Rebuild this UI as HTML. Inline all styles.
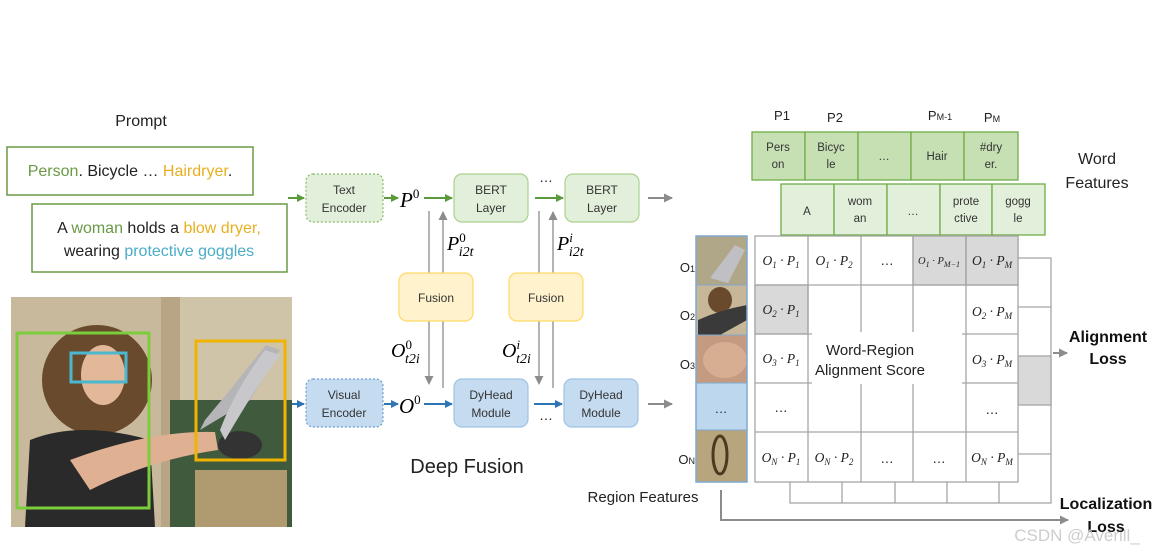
<!DOCTYPE html>
<html><head><meta charset="utf-8"><style>
html,body{margin:0;padding:0;background:#fff;}
svg text{font-family:"Liberation Sans",sans-serif;}
.m{font-family:"Liberation Serif",serif;font-style:italic;}
</style></head><body>
<svg width="1159" height="555" viewBox="0 0 1159 555" xmlns="http://www.w3.org/2000/svg">
<defs>
<marker id="ag" markerWidth="8" markerHeight="8" refX="7" refY="4" orient="auto" markerUnits="userSpaceOnUse"><path d="M0,0 L8,4 L0,8 z" fill="#5b9a3c"/></marker>
<marker id="ab" markerWidth="8" markerHeight="8" refX="7" refY="4" orient="auto" markerUnits="userSpaceOnUse"><path d="M0,0 L8,4 L0,8 z" fill="#2e75b6"/></marker>
<marker id="ay" markerWidth="9" markerHeight="9" refX="8" refY="4.5" orient="auto" markerUnits="userSpaceOnUse"><path d="M0,0 L9,4.5 L0,9 z" fill="#8c8c8c"/></marker>
</defs>

<!-- Prompt -->
<text x="141" y="126" font-size="16" text-anchor="middle" fill="#222">Prompt</text>
<rect x="7" y="147" width="246" height="48" fill="#fff" stroke="#6a9a45" stroke-width="1.5"/>
<text x="130" y="176" font-size="16" text-anchor="middle" fill="#222"><tspan fill="#6a9a45">Person</tspan>. Bicycle … <tspan fill="#e8b020">Hairdryer</tspan>.</text>
<rect x="32" y="204" width="255" height="68" fill="#fff" stroke="#6a9a45" stroke-width="1.5"/>
<text x="159" y="233" font-size="16" text-anchor="middle" fill="#222">A <tspan fill="#6a9a45">woman</tspan> holds a <tspan fill="#e8b020">blow dryer,</tspan></text>
<text x="159" y="256" font-size="16" text-anchor="middle" fill="#222">wearing <tspan fill="#4bacc6">protective goggles</tspan></text>

<!-- Photo -->
<rect x="11" y="297" width="281" height="230" fill="#b8a586"/>
<rect x="11" y="297" width="150" height="230" fill="#c9b99c"/>
<rect x="180" y="297" width="112" height="230" fill="#cfc3a8"/>
<rect x="170" y="400" width="122" height="127" fill="#3f5a3c"/>
<rect x="195" y="470" width="92" height="57" fill="#b09a70"/>
<ellipse cx="97" cy="380" rx="55" ry="55" fill="#6a4a2c"/>
<ellipse cx="103" cy="375" rx="22" ry="30" fill="#e2b898"/>
<path d="M30 440 Q80 420 150 440 L155 527 L25 527 Z" fill="#2a2a2a"/>
<path d="M70 460 Q150 430 215 432 L218 450 Q150 460 90 490 Z" fill="#e0b092"/>
<path d="M200 430 L250 400 L280 350 L266 345 L230 390 L205 420 Z" fill="#b5b5b8"/>
<ellipse cx="240" cy="445" rx="22" ry="14" fill="#333"/>
<path d="M225 440 Q260 380 280 355 L265 350 Q235 390 220 430Z" fill="#c8c8cc"/>
<rect x="17" y="333" width="132" height="175" fill="none" stroke="#7ccd3c" stroke-width="3"/>
<rect x="71" y="353" width="55" height="29" fill="none" stroke="#4bb8d0" stroke-width="3"/>
<rect x="196" y="341" width="89" height="119" fill="none" stroke="#f0b400" stroke-width="3"/>

<!-- Encoders -->
<line x1="288" y1="198" x2="304" y2="198" stroke="#5b9a3c" stroke-width="2" marker-end="url(#ag)"/>
<line x1="292" y1="404" x2="304" y2="404" stroke="#2e75b6" stroke-width="2" marker-end="url(#ab)"/>
<rect x="306" y="174" width="77" height="48" rx="7" fill="#e2efda" stroke="#8ab86a" stroke-width="1.2" stroke-dasharray="2,2"/>
<text x="344" y="194" font-size="12" text-anchor="middle" fill="#333">Text</text>
<text x="344" y="212" font-size="12" text-anchor="middle" fill="#333">Encoder</text>
<rect x="306" y="379" width="77" height="48" rx="7" fill="#c5dcf0" stroke="#6a9fd0" stroke-width="1.2" stroke-dasharray="2,2"/>
<text x="344" y="399" font-size="12" text-anchor="middle" fill="#333">Visual</text>
<text x="344" y="417" font-size="12" text-anchor="middle" fill="#333">Encoder</text>
<line x1="384" y1="198" x2="398" y2="198" stroke="#5b9a3c" stroke-width="2" marker-end="url(#ag)"/>
<line x1="384" y1="404" x2="398" y2="404" stroke="#2e75b6" stroke-width="2" marker-end="url(#ab)"/>
<text x="400" y="207" font-size="21" class="m">P<tspan font-size="13" dy="-9" font-style="normal">0</tspan></text>
<text x="399" y="413" font-size="21" class="m">O<tspan font-size="13" dy="-9" font-style="normal">0</tspan></text>
<line x1="424" y1="198" x2="452" y2="198" stroke="#5b9a3c" stroke-width="2" marker-end="url(#ag)"/>
<line x1="424" y1="404" x2="452" y2="404" stroke="#2e75b6" stroke-width="2" marker-end="url(#ab)"/>

<!-- BERT -->
<rect x="454" y="174" width="74" height="48" rx="8" fill="#e2efda" stroke="#a9d18e" stroke-width="1.2"/>
<text x="491" y="194" font-size="12" text-anchor="middle" fill="#333">BERT</text>
<text x="491" y="212" font-size="12" text-anchor="middle" fill="#333">Layer</text>
<rect x="565" y="174" width="74" height="48" rx="8" fill="#e2efda" stroke="#a9d18e" stroke-width="1.2"/>
<text x="602" y="194" font-size="12" text-anchor="middle" fill="#333">BERT</text>
<text x="602" y="212" font-size="12" text-anchor="middle" fill="#333">Layer</text>
<text x="546" y="182" font-size="14" text-anchor="middle" fill="#222">…</text>
<line x1="535" y1="198" x2="563" y2="198" stroke="#5b9a3c" stroke-width="2" marker-end="url(#ag)"/>
<line x1="648" y1="198" x2="672" y2="198" stroke="#8c8c8c" stroke-width="2" marker-end="url(#ay)"/>

<!-- DyHead -->
<rect x="454" y="379" width="74" height="48" rx="8" fill="#c5dcf0" stroke="#9dc3e6" stroke-width="1.2"/>
<text x="491" y="399" font-size="12" text-anchor="middle" fill="#333">DyHead</text>
<text x="491" y="417" font-size="12" text-anchor="middle" fill="#333">Module</text>
<rect x="564" y="379" width="74" height="48" rx="8" fill="#c5dcf0" stroke="#9dc3e6" stroke-width="1.2"/>
<text x="601" y="399" font-size="12" text-anchor="middle" fill="#333">DyHead</text>
<text x="601" y="417" font-size="12" text-anchor="middle" fill="#333">Module</text>
<text x="546" y="420" font-size="14" text-anchor="middle" fill="#222">…</text>
<line x1="534" y1="404" x2="562" y2="404" stroke="#2e75b6" stroke-width="2" marker-end="url(#ab)"/>
<line x1="648" y1="404" x2="672" y2="404" stroke="#8c8c8c" stroke-width="2" marker-end="url(#ay)"/>

<!-- Fusion -->
<g stroke="#8c8c8c" stroke-width="1.3">
<line x1="429" y1="211" x2="429" y2="273"/><line x1="429" y1="321" x2="429" y2="384" marker-end="url(#ay)"/>
<line x1="443" y1="388" x2="443" y2="321"/><line x1="443" y1="273" x2="443" y2="212" marker-end="url(#ay)"/>
<line x1="539" y1="211" x2="539" y2="273"/><line x1="539" y1="321" x2="539" y2="384" marker-end="url(#ay)"/>
<line x1="553" y1="388" x2="553" y2="321"/><line x1="553" y1="273" x2="553" y2="212" marker-end="url(#ay)"/>
</g>
<rect x="399" y="273" width="74" height="48" rx="8" fill="#fff2cc" stroke="#ffd966" stroke-width="1.2"/>
<text x="436" y="302" font-size="12" text-anchor="middle" fill="#333">Fusion</text>
<rect x="509" y="273" width="74" height="48" rx="8" fill="#fff2cc" stroke="#ffd966" stroke-width="1.2"/>
<text x="546" y="302" font-size="12" text-anchor="middle" fill="#333">Fusion</text>
<text x="447" y="250" font-size="20" class="m">P<tspan font-size="13" dy="-8" font-style="normal">0</tspan><tspan font-size="14" dx="-7" dy="14">i2t</tspan></text>
<text x="557" y="250" font-size="20" class="m">P<tspan font-size="13" dy="-8">i</tspan><tspan font-size="14" dx="-4" dy="14">i2t</tspan></text>
<text x="391" y="357" font-size="20" class="m">O<tspan font-size="13" dy="-8" font-style="normal">0</tspan><tspan font-size="14" dx="-7" dy="14">t2i</tspan></text>
<text x="502" y="357" font-size="20" class="m">O<tspan font-size="13" dy="-8">i</tspan><tspan font-size="14" dx="-4" dy="14">t2i</tspan></text>
<text x="467" y="473" font-size="20" text-anchor="middle" fill="#222">Deep Fusion</text>

<!-- Word features -->
<g font-size="11.5" text-anchor="middle" fill="#222">
<text x="782" y="120" font-size="13">P1</text>
<text x="835" y="122" font-size="13">P2</text>
<text x="940" y="120" font-size="13">P<tspan font-size="9">M-1</tspan></text>
<text x="992" y="122" font-size="13">P<tspan font-size="9">M</tspan></text>
</g>
<g stroke="#70ad47" stroke-width="1.3" fill="#c6e0b4">
<rect x="752" y="132" width="53" height="48"/><rect x="805" y="132" width="53" height="48"/><rect x="858" y="132" width="53" height="48"/><rect x="911" y="132" width="53" height="48"/><rect x="964" y="132" width="54" height="48"/>
</g>
<g stroke="#70ad47" stroke-width="1.3" fill="#e2efda">
<rect x="781" y="184" width="53" height="51"/><rect x="834" y="184" width="53" height="51"/><rect x="887" y="184" width="53" height="51"/><rect x="940" y="184" width="52" height="51"/><rect x="992" y="184" width="53" height="51"/>
</g>
<g font-size="11.5" text-anchor="middle" fill="#333">
<text x="778" y="151">Pers</text><text x="778" y="168">on</text>
<text x="831" y="151">Bicyc</text><text x="831" y="168">le</text>
<text x="884" y="160">…</text>
<text x="937" y="160">Hair</text>
<text x="991" y="151">#dry</text><text x="991" y="168">er.</text>
<text x="807" y="215">A</text>
<text x="860" y="205">wom</text><text x="860" y="222">an</text>
<text x="913" y="215">…</text>
<text x="966" y="205">prote</text><text x="966" y="222">ctive</text>
<text x="1018" y="205">gogg</text><text x="1018" y="222">le</text>
</g>
<text x="1097" y="164" font-size="16" text-anchor="middle" fill="#222">Word</text>
<text x="1097" y="188" font-size="16" text-anchor="middle" fill="#222">Features</text>

<!-- Back layers -->
<g stroke="#a6a6a6" stroke-width="1.3" fill="#fff">
<rect x="790" y="258" width="261" height="245"/>
<rect x="1018" y="356" width="33" height="49" fill="#d9d9d9"/>
<line x1="1018" y1="307" x2="1051" y2="307"/><line x1="1018" y1="454" x2="1051" y2="454"/>
<line x1="842" y1="482" x2="842" y2="503"/><line x1="895" y1="482" x2="895" y2="503"/><line x1="947" y1="482" x2="947" y2="503"/><line x1="999" y1="482" x2="999" y2="503"/>
</g>

<!-- Grid -->
<g stroke="#a6a6a6" stroke-width="1.3" fill="#fff">
<rect x="755" y="236" width="263" height="246"/>
<rect x="913" y="236" width="53" height="49" fill="#d9d9d9"/>
<rect x="966" y="236" width="52" height="49" fill="#d9d9d9"/>
<rect x="755" y="285" width="53" height="49" fill="#d9d9d9"/>
<line x1="755" y1="285" x2="1018" y2="285"/><line x1="755" y1="334" x2="1018" y2="334"/><line x1="755" y1="383" x2="1018" y2="383"/><line x1="755" y1="432" x2="1018" y2="432"/>
<line x1="808" y1="236" x2="808" y2="482"/><line x1="861" y1="236" x2="861" y2="482"/><line x1="913" y1="236" x2="913" y2="482"/><line x1="966" y1="236" x2="966" y2="482"/>
</g>
<rect x="812" y="332" width="150" height="52" fill="#fff"/>
<text x="870" y="355" font-size="15" text-anchor="middle" fill="#222">Word-Region</text>
<text x="870" y="375" font-size="15" text-anchor="middle" fill="#222">Alignment Score</text>
<g font-size="13.5" text-anchor="middle" fill="#222" class="m">
<text x="781" y="265" class="m">O<tspan font-size="9" dy="3">1</tspan><tspan dy="-3"> · P</tspan><tspan font-size="9" dy="3">1</tspan></text>
<text x="834" y="265" class="m">O<tspan font-size="9" dy="3">1</tspan><tspan dy="-3"> · P</tspan><tspan font-size="9" dy="3">2</tspan></text>
<text x="887" y="265" font-style="normal">…</text>
<text x="939" y="264" font-size="10.5" class="m">O<tspan font-size="8" dy="3">1</tspan><tspan dy="-3"> · P</tspan><tspan font-size="8" dy="3">M−1</tspan></text>
<text x="992" y="265" class="m">O<tspan font-size="9" dy="3">1</tspan><tspan dy="-3"> · P</tspan><tspan font-size="9" dy="3">M</tspan></text>
<text x="781" y="314" class="m">O<tspan font-size="9" dy="3">2</tspan><tspan dy="-3"> · P</tspan><tspan font-size="9" dy="3">1</tspan></text>
<text x="992" y="316" class="m">O<tspan font-size="9" dy="3">2</tspan><tspan dy="-3"> · P</tspan><tspan font-size="9" dy="3">M</tspan></text>
<text x="781" y="363" class="m">O<tspan font-size="9" dy="3">3</tspan><tspan dy="-3"> · P</tspan><tspan font-size="9" dy="3">1</tspan></text>
<text x="992" y="364" class="m">O<tspan font-size="9" dy="3">3</tspan><tspan dy="-3"> · P</tspan><tspan font-size="9" dy="3">M</tspan></text>
<text x="781" y="412" font-style="normal">…</text>
<text x="992" y="414" font-style="normal">…</text>
<text x="781" y="462" class="m">O<tspan font-size="9" dy="3">N</tspan><tspan dy="-3"> · P</tspan><tspan font-size="9" dy="3">1</tspan></text>
<text x="834" y="462" class="m">O<tspan font-size="9" dy="3">N</tspan><tspan dy="-3"> · P</tspan><tspan font-size="9" dy="3">2</tspan></text>
<text x="887" y="463" font-style="normal">…</text>
<text x="939" y="463" font-style="normal">…</text>
<text x="992" y="462" class="m">O<tspan font-size="9" dy="3">N</tspan><tspan dy="-3"> · P</tspan><tspan font-size="9" dy="3">M</tspan></text>
</g>

<!-- Region features -->
<rect x="696" y="236" width="51" height="49" fill="#b0a688"/>
<path d="M710 278 L735 245 L745 250 L728 283 Z" fill="#c0c0c4"/>
<rect x="696" y="285" width="51" height="50" fill="#c7b698"/>
<ellipse cx="720" cy="300" rx="12" ry="13" fill="#6a4a2c"/>
<path d="M698 320 Q720 310 747 305 L747 320 L720 335 L698 335Z" fill="#3a3a3a"/>
<rect x="696" y="335" width="51" height="48" fill="#c49b80"/>
<ellipse cx="725" cy="360" rx="22" ry="18" fill="#d8ae92"/>
<rect x="696" y="383" width="51" height="47" fill="#bdd7ee"/>
<text x="721" y="413" font-size="13" text-anchor="middle" fill="#222">…</text>
<rect x="696" y="430" width="51" height="52" fill="#b8a57e"/>
<ellipse cx="720" cy="455" rx="7" ry="19" fill="none" stroke="#4a3a20" stroke-width="3"/>
<rect x="696" y="236" width="51" height="246" fill="none" stroke="#7fa8d0" stroke-width="1.5"/>
<g stroke="#7fa8d0" stroke-width="1"><line x1="696" y1="285" x2="747" y2="285"/><line x1="696" y1="335" x2="747" y2="335"/><line x1="696" y1="383" x2="747" y2="383"/><line x1="696" y1="430" x2="747" y2="430"/></g>
<g font-size="13" fill="#222" text-anchor="end">
<text x="695" y="272">O<tspan font-size="9">1</tspan></text>
<text x="695" y="320">O<tspan font-size="9">2</tspan></text>
<text x="695" y="369">O<tspan font-size="9">3</tspan></text>
<text x="695" y="464">O<tspan font-size="9">N</tspan></text>
</g>
<text x="643" y="502" font-size="15" text-anchor="middle" fill="#222">Region Features</text>

<!-- Losses -->
<line x1="1053" y1="353" x2="1067" y2="353" stroke="#8c8c8c" stroke-width="2" marker-end="url(#ay)"/>
<text x="1108" y="342" font-size="16" font-weight="bold" text-anchor="middle" fill="#111">Alignment</text>
<text x="1108" y="364" font-size="16" font-weight="bold" text-anchor="middle" fill="#111">Loss</text>
<path d="M721 490 L721 520 L1068 520" fill="none" stroke="#8c8c8c" stroke-width="2" marker-end="url(#ay)"/>
<text x="1106" y="509" font-size="16" font-weight="bold" text-anchor="middle" fill="#111">Localization</text>
<text x="1106" y="532" font-size="16" font-weight="bold" text-anchor="middle" fill="#111">Loss</text>
<text x="1077" y="541" font-size="17" text-anchor="middle" fill="#c8c8c8" opacity="0.9">CSDN @Averill_</text>
</svg>
</body></html>
